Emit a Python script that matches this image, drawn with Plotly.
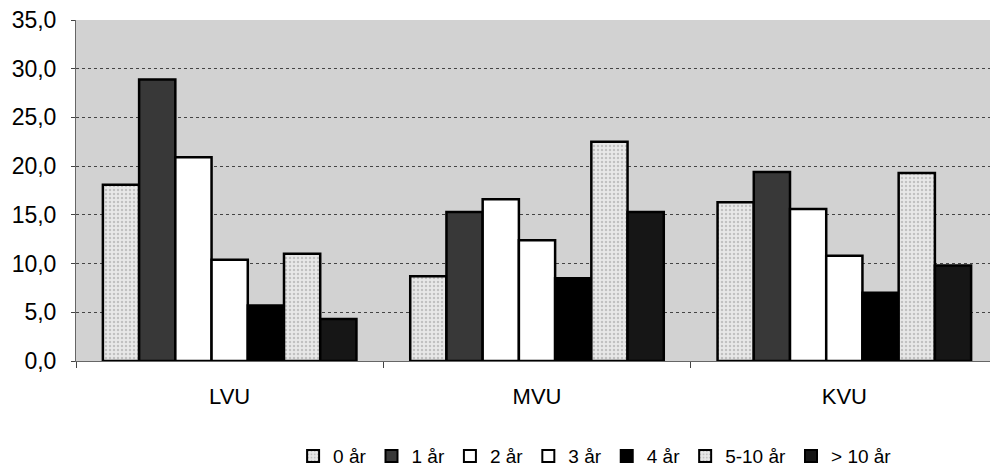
import plotly.graph_objects as go

categories = ["LVU", "MVU", "KVU"]
series_names = ["0 år", "1 år", "2 år", "3 år", "4 år", "5-10 år", "> 10 år"]
v_0 = [18.1, 8.7, 16.3]
v_1 = [28.9, 15.3, 19.4]
v_2 = [20.9, 16.6, 15.6]
v_3 = [10.4, 12.4, 10.8]
v_4 = [5.7, 8.5, 7.0]
v_5_10 = [11.0, 22.5, 19.3]
v_10p = [4.3, 15.3, 9.8]
y_ticks = [0, 5, 10, 15, 20, 25, 30, 35]

values = [v_0, v_1, v_2, v_3, v_4, v_5_10, v_10p]
fills = ["#e8e8e8", "#383838", "#ffffff", "#ffffff", "#000000", "#e8e8e8", "#161616"]
patterns = [".", "", "", "", "", ".", ""]

fig = go.Figure()
for name, vals, col, pat in zip(series_names, values, fills, patterns):
    marker = dict(color=col, line=dict(color="black", width=2.5))
    if pat:
        marker["pattern"] = dict(shape=pat, fgcolor="#9a9a9a", bgcolor=col, size=4, solidity=0.3)
    fig.add_trace(go.Bar(name=name, x=categories, y=vals, marker=marker))

fig.update_layout(
    width=990, height=463,
    barmode="group", bargap=0.175, bargroupgap=0,
    paper_bgcolor="white", plot_bgcolor="#d2d2d2",
    margin=dict(l=68, r=0, t=12, b=110, autoexpand=False),
    font=dict(family="Liberation Sans, Arial, sans-serif", size=22, color="black"),
    showlegend=True,
    legend=dict(orientation="h", x=0.563, xanchor="center", y=-0.279, yanchor="middle",
                font=dict(size=19), itemwidth=30, tracegroupgap=0,
                itemsizing="constant"),
    separators=",.",
)
fig.update_yaxes(range=[0, 35], tickvals=y_ticks, tickformat=".1f",
                 showgrid=True, gridcolor="#444444", griddash="dot", gridwidth=1,
                 showline=True, linecolor="#666666", ticks="outside", ticklen=4,
                 ticklabelstandoff=10, ticklabeloverflow="allow",
                 tickfont=dict(size=23), zeroline=False, automargin=False)
fig.update_xaxes(showline=True, linecolor="#666666", ticks="outside", tickson="boundaries",
                 ticklen=6, tickfont=dict(size=22), ticklabelstandoff=16, automargin=False)

fig.write_html("out.html")
